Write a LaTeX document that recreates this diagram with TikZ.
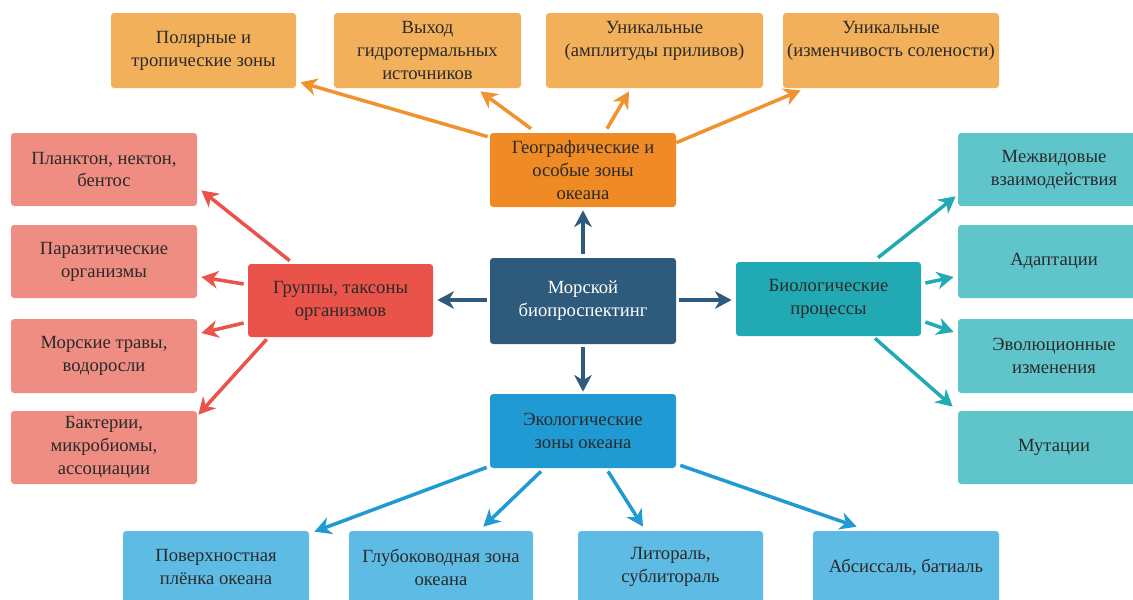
\documentclass[tikz,border=0pt]{standalone}
\usepackage{fontspec}
\setmainfont{Liberation Serif}
\usetikzlibrary{arrows.meta}
\definecolor{cTop}{HTML}{F2B05A}
\definecolor{cGeo}{HTML}{EF8A24}
\definecolor{cGeoA}{HTML}{F0922D}
\definecolor{cLeft}{HTML}{F08D82}
\definecolor{cGrp}{HTML}{E9534A}
\definecolor{cMid}{HTML}{2E5B7B}
\definecolor{cBio}{HTML}{21A9B4}
\definecolor{cRight}{HTML}{5FC5CB}
\definecolor{cEco}{HTML}{1F9AD3}
\definecolor{cBot}{HTML}{5EBBE3}
\definecolor{txtc}{HTML}{2A2A2A}
\begin{document}
\begin{tikzpicture}[x=0.02cm,y=-0.02cm,
  box/.style={rectangle, rounded corners=1.8pt, inner sep=0pt, align=center, text=txtc,
    font=\fontsize{10.6}{13}\selectfont},
  txt/.style={inner sep=0pt, align=center, text=txtc, font=\fontsize{10.6}{13}\selectfont},
  sz/.style 2 args={minimum width=#1*0.02cm, minimum height=#2*0.02cm},
  arr/.style={line width=2pt, -{Stealth[length=9.5pt,width=10pt,inset=3pt]}},
]
\useasboundingbox (0,0) rectangle (1133,599);
\fill[white] (0,0) rectangle (1133,599);
\clip (0,0) rectangle (1133,599);

% top row
\node[box, fill=cTop, sz={185}{75}] (t1) at (203.5,50.5) {Полярные и\\тропические зоны};
\node[box, fill=cTop, sz={187}{75}] (t2) at (427.5,50.5) {Выход\\гидротермальных\\источников};
\node[box, fill=cTop, sz={217}{75}] (t3) at (654.5,50.5) {};
\node[txt] at (654.5,41) {Уникальные\\(амплитуды приливов)};
\node[box, fill=cTop, sz={216}{75}] (t4) at (891,50.5) {};
\node[txt] at (891,41) {Уникальные\\(изменчивость солености)};

% geo
\node[box, fill=cGeo, sz={186}{74}] (geo) at (583,170) {Географические и\\особые зоны\\океана};

% left column
\node[box, fill=cLeft, sz={186}{73}] (l1) at (104,169.5) {Планктон, нектон,\\бентос};
\node[box, fill=cLeft, sz={186}{73}] (l2) at (104,261.5) {Паразитические\\организмы};
\node[box, fill=cLeft, sz={186}{74}] (l3) at (104,356) {Морские травы,\\водоросли};
\node[box, fill=cLeft, sz={186}{73}] (l4) at (104,447.5) {Бактерии,\\микробиомы,\\ассоциации};

% middle row
\node[box, fill=cGrp, sz={185}{73}] (grp) at (340.5,300.5) {Группы, таксоны\\организмов};
\node[box, fill=cMid, sz={186}{86}, text=white] (mid) at (583,301) {Морской\\биопроспектинг};
\node[box, fill=cBio, sz={185}{74}] (bio) at (828.5,299) {Биологические\\процессы};

% right column
\node[box, fill=cRight, sz={192}{73}] (r1) at (1054,169.5) {Межвидовые\\взаимодействия};
\node[box, fill=cRight, sz={192}{73}] (r2) at (1054,261.5) {Адаптации};
\node[box, fill=cRight, sz={192}{74}] (r3) at (1054,356) {Эволюционные\\изменения};
\node[box, fill=cRight, sz={192}{73}] (r4) at (1054,447.5) {Мутации};

% eco
\node[box, fill=cEco, sz={186}{74}] (eco) at (583,431) {Экологические\\зоны океана};

% bottom row
\node[box, fill=cBot, sz={186}{72}] (b1) at (216,567) {Поверхностная\\плёнка океана};
\node[box, fill=cBot, sz={184}{72}] (b2) at (441,567) {Глубоководная зона\\океана};
\node[box, fill=cBot, sz={185}{72}] (b3) at (670.5,567) {Литораль,\\сублитораль};
\node[box, fill=cBot, sz={186}{72}] (b4) at (906,567) {Абсиссаль, батиаль};

% arrows from geo
\draw[arr, cGeoA] ([shift={(-2,4)}]geo.north west) -- ([shift={(4,-6)}]t1.south east);
\draw[arr, cGeoA] ([shift={(-52,-4)}]geo.north) -- ([shift={(-41,3)}]t2.south east);
\draw[arr, cGeoA] ([shift={(24,-4)}]geo.north) -- ([shift={(-25.5,3)}]t3.south);
\draw[arr, cGeoA] ([shift={(0,10)}]geo.north east) -- ([shift={(18,2)}]t4.south west);

% arrows from mid
\draw[arr, cMid] ([shift={(0,-4)}]mid.north) -- ([shift={(0,3)}]geo.south);
\draw[arr, cMid] ([shift={(-3,-1)}]mid.west) -- ([shift={(4,-0.5)}]grp.east);
\draw[arr, cMid] ([shift={(3,-1)}]mid.east) -- ([shift={(-4,1)}]bio.west);
\draw[arr, cMid] ([shift={(0,3)}]mid.south) -- ([shift={(0,-2)}]eco.north);

% arrows from groups
\draw[arr, cGrp] ([shift={(42,-3)}]grp.north west) -- ([shift={(4,-16)}]l1.south east);
\draw[arr, cGrp] ([shift={(-4,-16.5)}]grp.west) -- ([shift={(4,15.5)}]l2.east);
\draw[arr, cGrp] ([shift={(-4,22.5)}]grp.west) -- ([shift={(4,-23)}]l3.east);
\draw[arr, cGrp] ([shift={(19,2)}]grp.south west) -- ([shift={(1,4)}]l4.north east);

% arrows from bio
\draw[arr, cBio] ([shift={(49.5,-4)}]bio.north) -- ([shift={(-2,-10)}]r1.south west);
\draw[arr, cBio] ([shift={(4,-16)}]bio.east) -- ([shift={(-4,15.5)}]r2.west);
\draw[arr, cBio] ([shift={(4,23)}]bio.east) -- ([shift={(-4,-24)}]r3.west);
\draw[arr, cBio] ([shift={(46.5,2)}]bio.south) -- ([shift={(-5,-4)}]r4.north west);

% arrows from eco
\draw[arr, cEco] ([shift={(-3,-1)}]eco.south west) -- ([shift={(5,1)}]b1.north east);
\draw[arr, cEco] ([shift={(-42,3)}]eco.south) -- ([shift={(-50,-4)}]b2.north east);
\draw[arr, cEco] ([shift={(25,3)}]eco.south) -- ([shift={(-27.5,-4)}]b3.north);
\draw[arr, cEco] ([shift={(4,-3)}]eco.south east) -- ([shift={(44,-4)}]b4.north west);
\end{tikzpicture}
\end{document}
